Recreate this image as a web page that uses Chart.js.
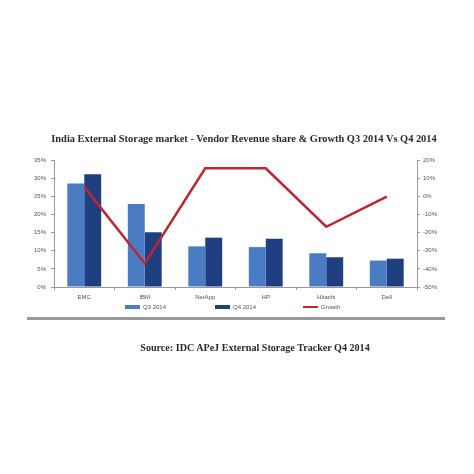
<!DOCTYPE html>
<html><head><meta charset="utf-8">
<script src="https://cdn.jsdelivr.net/npm/chart.js@4.4.1/dist/chart.umd.min.js"></script>
<style>
html,body{margin:0;padding:0;background:#fff;width:474px;height:474px;overflow:hidden;position:relative}
#c{position:absolute;left:0;top:0}
#title{position:absolute;top:133px;left:244px;transform:translateX(-50%);font-family:"Liberation Serif","Times New Roman",serif;font-weight:bold;font-size:10.4px;line-height:12px;color:#2a2a2a;white-space:nowrap}
#src{position:absolute;top:342px;left:255px;transform:translateX(-50%);font-family:"Liberation Serif","Times New Roman",serif;font-weight:bold;font-size:10.1px;line-height:12px;color:#2a2a2a;white-space:nowrap}
#rule{position:absolute;top:317px;left:27px;width:418px;height:3px;background:#9a9a9a}
.lg{position:absolute;top:304px;font-family:"Liberation Sans",Arial,sans-serif;font-size:6px;line-height:7px;color:#555;white-space:nowrap}
.sw{display:inline-block;width:15px;vertical-align:middle;margin-right:3px}
</style></head>
<body>
<div id="wrap" style="position:absolute;left:0;top:0;width:474px;height:474px"><canvas id="c"></canvas></div>
<div id="title">India External Storage market - Vendor Revenue share &amp; Growth Q3 2014 Vs Q4 2014</div>
<div id="rule"></div>
<div id="src">Source: IDC APeJ External Storage Tracker Q4 2014</div>
<div id="legend"></div>
<script>
const categories = ["EMC","IBM","NetApp","HP","Hitachi","Dell"];
const q3Share = [28.5, 22.9, 11.2, 11.0, 9.3, 7.3];
const q4Share = [31.1, 15.1, 13.6, 13.3, 8.2, 7.8];
const growth = [5.2, -37, 15.4, 15.4, -16.8, -0.2];
const seriesNames = ["Q3 2014","Q4 2014","Growth"];
const shareTicks = [0,5,10,15,20,25,30,35];
const growthTicks = [-50,-40,-30,-20,-10,0,10,20];

const tickFont = {family:"Liberation Sans, Arial, sans-serif", size:6};
const chart = new Chart(document.getElementById('c'), {
  type:'bar',
  data:{
    labels:categories,
    datasets:[
      {label:seriesNames[0], data:q3Share, backgroundColor:'#4a7cc4', borderWidth:0, yAxisID:'y', order:2, barPercentage:1, categoryPercentage:0.56},
      {label:seriesNames[1], data:q4Share, backgroundColor:'#1f3f80', borderWidth:0, yAxisID:'y', order:2, barPercentage:1, categoryPercentage:0.56},
      {type:'line', label:seriesNames[2], data:growth, borderColor:'#c0262f', backgroundColor:'#c0262f', borderWidth:2.5, pointRadius:0, tension:0, yAxisID:'y1', order:0}
    ]
  },
  options:{
    responsive:true, maintainAspectRatio:false, animation:false,
    layout:{padding:{top:160,right:0,left:0,bottom:174}},
    plugins:{legend:{display:false}, tooltip:{enabled:false}},
    scales:{
      x:{grid:{display:true, drawOnChartArea:false, offset:true, tickLength:3, color:'#999'}, border:{color:'#999'},
         ticks:{font:tickFont, color:'#555', padding:4}, afterFit:s=>{s.height=13;}},
      y:{position:'left', min:shareTicks[0], max:shareTicks[shareTicks.length-1], grid:{drawOnChartArea:false, tickLength:3, color:'#999'}, border:{color:'#999'},
         ticks:{stepSize:shareTicks[1]-shareTicks[0], font:tickFont, color:'#555', padding:5, callback:v=>v+'%'}, afterFit:s=>{s.width=54;}},
      y1:{position:'right', min:growthTicks[0], max:growthTicks[growthTicks.length-1], grid:{drawOnChartArea:false, tickLength:3, color:'#999'}, border:{color:'#999'},
         ticks:{stepSize:growthTicks[1]-growthTicks[0], font:tickFont, color:'#555', padding:3, callback:v=>v+'%'}, afterFit:s=>{s.width=57;}}
    }
  }
});
// HTML legend built from the chart's datasets
const legendX = [125, 215, 303];
const lg = document.getElementById('legend');
chart.data.datasets.forEach((ds,i)=>{
  const d = document.createElement('div');
  d.className='lg'; d.style.left=legendX[i]+'px';
  const sw = document.createElement('span');
  sw.className='sw';
  sw.style.height = ds.type==='line' ? '2px' : '4px';
  sw.style.background = ds.type==='line' ? ds.borderColor : ds.backgroundColor;
  d.appendChild(sw);
  d.appendChild(document.createTextNode(ds.label));
  lg.appendChild(d);
});
</script>
</body></html>
